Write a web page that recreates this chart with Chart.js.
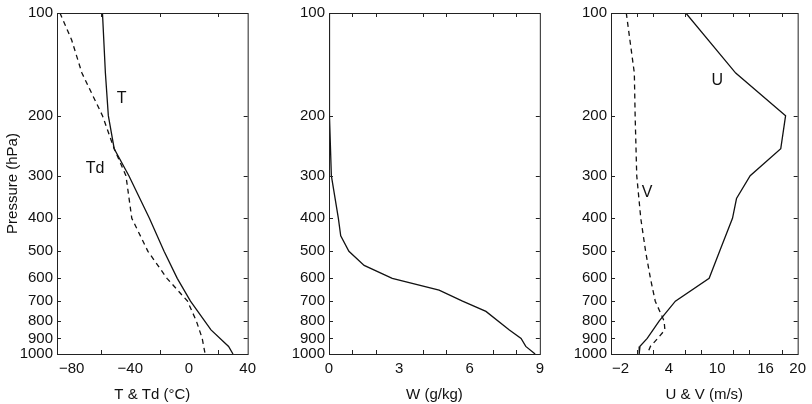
<!DOCTYPE html><html><head><meta charset="utf-8">
<script src="https://cdn.jsdelivr.net/npm/chart.js@4"></script>
<style>body{margin:0;background:#fff;width:812px;height:404px;position:relative;overflow:hidden}
.c{position:absolute;top:0;height:404px}</style></head><body>
<div class="c" style="left:0;width:262px"><canvas id="c1"></canvas></div>
<div class="c" style="left:280px;width:270px"><canvas id="c2"></canvas></div>
<div class="c" style="left:560px;width:252px"><canvas id="c3"></canvas></div>
<script>
const pTicks=[100,200,300,400,500,600,700,800,900,1000];
const pT=[100,150,200,250,300,400,500,600,700,850,950,1000];
const T=[-59,-57,-55,-51,-41,-27,-17,-8,1,15,27,30];
const pTd=[100,120,150,200,250,300,400,500,600,700,800,900,1000];
const Td=[-88,-80,-73,-59,-51,-43,-39,-28,-15,-1,5,9,11];
const pW=[100,200,300,400,450,500,550,600,650,700,750,850,900,950,1000];
const W=[0,0.02,0.1,0.4,0.5,0.85,1.5,2.7,4.7,5.7,6.7,7.7,8.2,8.4,8.8];
const pU=[100,150,200,250,300,350,400,500,600,700,800,900,950,1000];
const U=[6.1,12.3,18.5,17.9,14.1,12.4,11.9,10.3,9,4.8,2.8,1.3,0.4,0.3];
const pV=[100,150,200,300,400,500,600,700,800,850,900,950,1000];
const V=[-1.3,-0.3,-0.2,0,0.5,1.1,1.7,2.3,3.4,3.5,2.6,1.7,1.3];
const FONT='"Liberation Sans", Arial, sans-serif';
Chart.defaults.font.family=FONT;Chart.defaults.font.size=15;Chart.defaults.color='#111';
const box={id:'box',afterDraw(c){const a=c.chartArea,x=c.ctx;x.save();x.strokeStyle='#222';x.lineWidth=1;
 x.strokeRect(a.left+.5,a.top+.5,a.right-a.left,a.bottom-a.top);
 const ys=c.scales.y,xs=c.scales.x;
 ys.ticks.forEach(t=>{const y=Math.round(ys.getPixelForValue(t.value))+.5;x.beginPath();x.moveTo(a.left,y);x.lineTo(a.left+4,y);x.moveTo(a.right,y);x.lineTo(a.right-4,y);x.stroke();});
 (c.options.minorX||[]).forEach(v=>{const p=Math.round(xs.getPixelForValue(v))+.5;x.beginPath();x.moveTo(p,a.bottom);x.lineTo(p,a.bottom-4);x.moveTo(p,a.top);x.lineTo(p,a.top+4);x.stroke();});
 (c.options.notes||[]).forEach(n=>{x.fillStyle='#111';x.font='16px '+FONT;x.textAlign='center';x.textBaseline='middle';x.fillText(n[0],xs.getPixelForValue(n[1]),ys.getPixelForValue(n[2]));});
 x.restore();}};
function mk(id,sets,xmin,xmax,xt,minor,xtitle,ytitle,yw,notes,padR){
 new Chart(document.getElementById(id),{type:'line',
  data:{datasets:sets.map(s=>({data:s[0].map((p,i)=>({x:s[1][i],y:p})),borderColor:'#111',borderWidth:1.3,pointRadius:0,borderDash:s[2]?[5,4]:[],tension:0}))},
  options:{responsive:true,maintainAspectRatio:false,animation:false,minorX:minor,notes:notes,
   layout:{padding:{top:8,right:padR,bottom:0}},
   plugins:{legend:{display:false},tooltip:{enabled:false}},
   scales:{x:{type:'linear',min:xmin,max:xmax,afterBuildTicks:a=>{a.ticks=xt.map(v=>({value:v}))},
     afterFit:a=>{a.height=50},
     grid:{display:false,drawTicks:false},border:{display:false},ticks:{padding:6,autoSkip:false,maxRotation:0,callback:v=>String(v).replace('-','\u2212')},
     title:{display:true,text:xtitle,padding:{top:4,bottom:0}}},
    y:{type:'logarithmic',reverse:true,min:100,max:1000,afterBuildTicks:a=>{a.ticks=pTicks.map(v=>({value:v}))},
     afterFit:a=>{a.width=yw},grid:{display:false,drawTicks:false},border:{display:false},
     ticks:{padding:4,autoSkip:false,callback:v=>String(v)},
     title:{display:!!ytitle,text:ytitle||'',padding:{bottom:0}}}}},plugins:[box]});
}
mk('c1',[[pT,T,false],[pTd,Td,true]],-90,40,[-80,-40,0,40],[-60,-20,20],'T & Td (\u00B0C)','Pressure (hPa)',57,[['T',-46,178],['Td',-64,285]],10);
mk('c2',[[pW,W,false]],0,9,[0,3,6,9],[1,2,4,5,7,8],'W (g/kg)',null,49,[],10);
mk('c3',[[pU,U,false],[pV,V,true]],-3.2,20,[-2,4,10,16,20],[0,2,6,8,12,14,18],'U & V (m/s)',null,51,[['U',10,158],['V',1.3,336]],8);
</script></body></html>
